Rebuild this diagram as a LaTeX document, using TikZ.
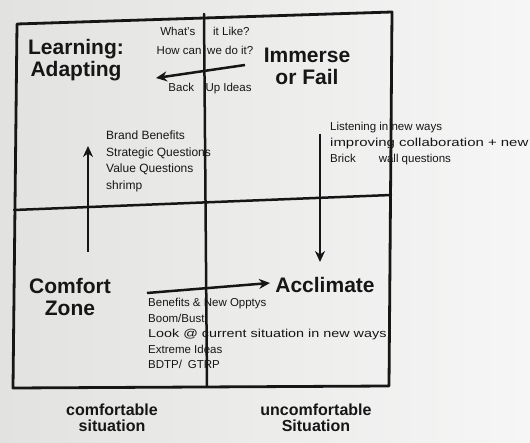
\documentclass[tikz,border=0pt]{standalone}
\usepackage{fontspec}
\setmainfont{Liberation Sans}
\usetikzlibrary{arrows.meta}
\definecolor{ink}{RGB}{22,22,22}
\definecolor{paperL}{RGB}{226,226,224}
\definecolor{paperR}{RGB}{246,246,246}
\tikzset{
  frame/.style={draw=ink,line width=2.8pt,line join=round,line cap=round},
  divider/.style={draw=ink,line width=2.5pt,line cap=round},
  flow/.style={draw=ink,line width=2.5pt,-{Stealth[length=11pt,width=10pt]}},
  head/.style={font=\fontsize{21}{22}\selectfont\bfseries,text=ink,align=center,inner sep=0pt},
  note/.style={font=\fontsize{11.5}{16}\selectfont,text=ink,align=left,inner sep=0pt},
  axis/.style={font=\fontsize{16}{16}\selectfont\bfseries,text=ink,align=center,inner sep=0pt}
}
\begin{document}
\begin{tikzpicture}[x=1pt,y=-1pt]
\shade[left color=paperL,right color=paperR] (0,0) rectangle (530,443);
\useasboundingbox (0,0) rectangle (530,443);
% frame corners
\coordinate (tl) at (17,24);
\coordinate (tr) at (392,12);
\coordinate (br) at (389,386);
\coordinate (bl) at (13,388);
\draw[frame] (tl) -- (tr) -- (br) -- (bl) -- cycle;
% dividers
\coordinate (vt) at (204,14);
\coordinate (vb) at (207,387);
\coordinate (hl) at (14,210);
\coordinate (hr) at (391,195);
\draw[divider] (vt) -- (vb);
\draw[divider] (hl) -- (hr);
% quadrant headings
\node[head] (learn) at (76,60) {Learning:\\Adapting};
\node[head] (immerse) at (307,66) {Immerse\\or Fail};
\node[head] (comfort) at (70,297) {Comfort\\Zone};
\node[head] (acclimate) at (325,285) {Acclimate};
% flow arrows
\coordinate (a1s) at (245,65);
\coordinate (a1e) at (156,78);
\draw[flow] (a1s) -- (a1e);
\coordinate (a2s) at (88,252);
\coordinate (a2e) at (88,146);
\draw[flow] (a2s) -- (a2e);
\coordinate (a3s) at (320,134);
\coordinate (a3e) at (320,262);
\draw[flow] (a3s) -- (a3e);
\coordinate (a4s) at (147,293);
\coordinate (a4e) at (270,283);
\draw[flow] (a4s) -- (a4e);
% notes
\node[note,align=center] (what) at (205,31) {What's\quad\ \ it Like?};
\node[note,align=center] (how) at (205,50) {How can\enspace we do it?};
\node[note,align=center] (back) at (210,89) {Back\quad Up Ideas};
\node[note,anchor=north west,font=\fontsize{12}{16.5}\selectfont] (brand) at (106,131)
  {Brand Benefits\\Strategic Questions\\Value Questions\\shrimp};
\node[note,anchor=north west,font=\fontsize{11.5}{16}\selectfont] (listen) at (330,122)
  {Listening in new ways\\\scalebox{1.3}[1]{improving collaboration + new}\\Brick\qquad wall questions};
\node[note,anchor=north west,font=\fontsize{11.5}{15.5}\selectfont] (benefits) at (148,298)
  {Benefits \& New Opptys\\Boom/Bust\\\scalebox{1.25}[1]{Look @ current situation in new ways}\\Extreme Ideas\\BDTP/\enspace GTRP};
% axis labels
\node[axis] (comfsit) at (112,418) {comfortable\\situation};
\node[axis] (uncsit) at (316,418) {uncomfortable\\Situation};
\end{tikzpicture}
\end{document}
